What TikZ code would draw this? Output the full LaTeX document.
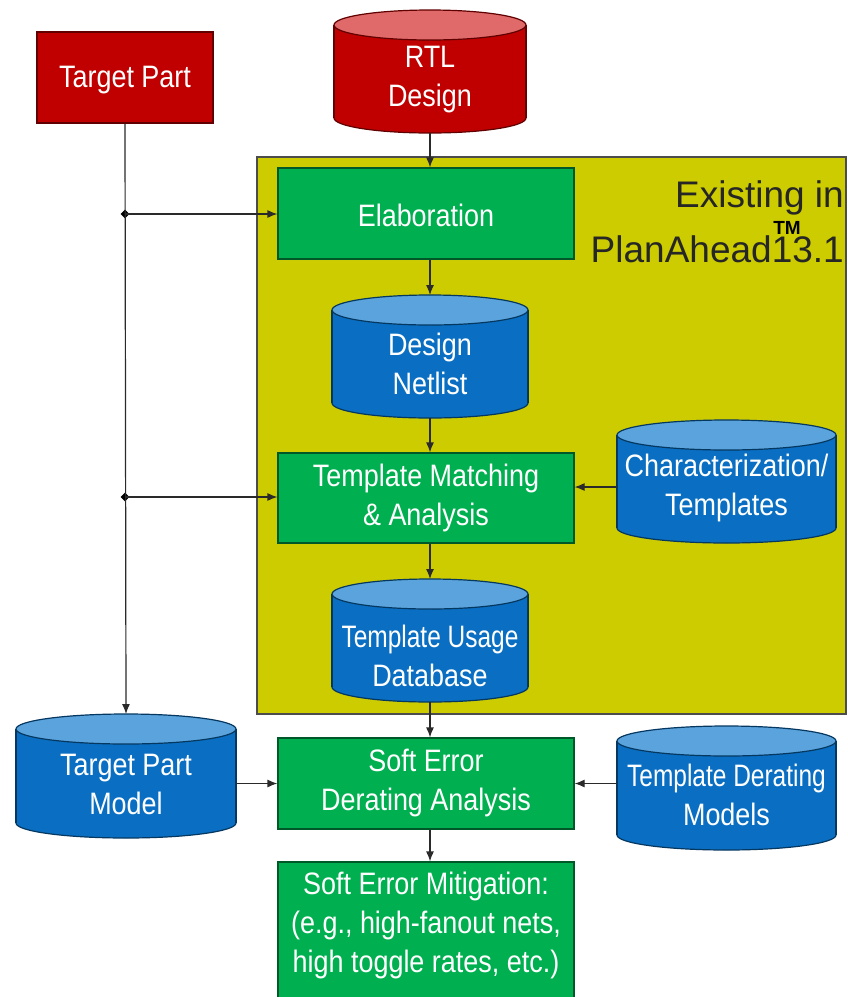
\documentclass[tikz,border=0pt]{standalone}
\usepackage{fontspec}
\setmainfont{Liberation Sans}
\newfontfamily\narrowfont{Liberation Sans}[FakeStretch=0.87]
\newfontfamily\narrowerfont{Liberation Sans}[FakeStretch=0.79]
\usetikzlibrary{arrows.meta,shapes.geometric,calc}
\definecolor{tred}{HTML}{C00000}
\definecolor{tredtop}{HTML}{E06A6A}
\definecolor{tblue}{HTML}{0A6FC2}
\definecolor{tbluetop}{HTML}{5AA3DC}
\definecolor{tgreen}{HTML}{00B050}
\definecolor{tyellow}{HTML}{CCCC00}
\definecolor{tline}{HTML}{2A2A2A}
\tikzset{
  boxnode/.style={draw=#1!50!black, line width=1.2pt, fill=#1, inner sep=0pt},
  txt/.style={text=white, font=\narrowfont\fontsize{31}{39}\selectfont, align=center, inner sep=0pt},
  cylbox/.style={inner sep=0pt, outer sep=0pt},
  conn/.style={draw=tline, line width=1.2pt, -{Latex[length=10pt,width=8pt]}},
  junction/.style={diamond, fill=black, inner sep=0pt, minimum size=9pt},
}
% \mycyl{name}{x1}{y1}{x2}{y2}{body}{top}{text offset}{text}
\newcommand\mycyl[9]{%
  \fill[#6] (#2,{#3+15}) rectangle (#4,{#5-15});
  \fill[#6] ({(#2+#4)/2},{#5-15}) ellipse [x radius={(#4-#2)/2}, y radius=15];
  \begin{scope}
    \clip (#2-3,{#5-15}) rectangle (#4+3,#5+3);
    \draw[#6!50!black, line width=1.2pt] ({(#2+#4)/2},{#5-15}) ellipse [x radius={(#4-#2)/2}, y radius=15];
  \end{scope}
  \draw[#6!50!black, line width=1.2pt] (#2,{#3+15}) -- (#2,{#5-15}) (#4,{#3+15}) -- (#4,{#5-15});
  \draw[#6!50!black, line width=1.2pt, fill=#7] ({(#2+#4)/2},{#3+15}) ellipse [x radius={(#4-#2)/2}, y radius=15];
  \node[cylbox, minimum width={(#4-#2)*1pt}, minimum height={(#5-#3)*1pt}] (#1) at ({(#2+#4)/2},{(#3+#5)/2}) {};
  \node[txt] at ($(#1.center)+(0,#8)$) {#9};
}
\begin{document}
\begin{tikzpicture}[x=1pt,y=-1pt]
\useasboundingbox (0,0) rectangle (847,997);
\fill[white] (0,0) rectangle (847,997);

% yellow region
\draw[fill=tyellow, draw=black!70, line width=1.2pt] (257,157) rectangle (846,714);
\node[anchor=base east, text=black!85, font=\fontsize{37}{37}\selectfont, inner sep=0pt] (ex1) at (844,207) {Existing in};
\node[anchor=base east, text=black!85, font=\fontsize{37}{37}\selectfont, inner sep=0pt] (ex2) at (844,262) {PlanAhead13.1};
\node[anchor=base, text=black, font=\bfseries\fontsize{19}{19}\selectfont, inner sep=0pt] (tm) at (787,234) {TM};

% rectangles
\node[boxnode=tred, minimum width=176pt, minimum height=91pt] (tp) at (125,77.5) {};
\node[txt] at (125,80) {Target Part};

\node[boxnode=tgreen, minimum width=296pt, minimum height=91pt] (elab) at (426,213.5) {};
\node[txt] at (426,215) {Elaboration};

\node[boxnode=tgreen, minimum width=296pt, minimum height=90pt] (tma) at (426,498) {};
\node[txt] at (426,498) {Template Matching\\ \& Analysis};

\node[boxnode=tgreen, minimum width=296pt, minimum height=91pt] (seda) at (426,783.5) {};
\node[txt] at (426,783) {Soft Error\\ Derating Analysis};

\node[boxnode=tgreen, minimum width=296pt, minimum height=145pt] (sem) at (426,934.5) {};
\node[txt] at (426,925) {Soft Error Mitigation:\\ (e.g., high-fanout nets,\\ high toggle rates, etc.)};

% cylinders
\mycyl{rtl}{334}{10}{526}{133}{tred}{tredtop}{8}{RTL\\ Design}
\mycyl{dn}{332}{295}{528}{418}{tblue}{tbluetop}{7}{Design\\ Netlist}
\mycyl{ct}{617}{420}{836}{543}{tblue}{tbluetop}{6}{Characterization/\\ Templates}
\mycyl{tud}{332}{579}{528}{702}{tblue}{tbluetop}{15}{\narrowerfont Template Usage\\ Database}
\mycyl{tpm}{16}{714}{236}{838}{tblue}{tbluetop}{8}{Target Part\\ Model}
\mycyl{tdm}{617}{726}{836}{850}{tblue}{tbluetop}{7}{\narrowerfont Template Derating\\ Models}

% junctions
\node[junction] (j1) at (125,214) {};
\node[junction] (j2) at (125,497) {};

% connectors
\draw[conn] (tp.south) -- (tpm.north);
\draw[conn] (j1.center) -- (j1.center -| elab.west);
\draw[conn] (j2.center) -- (j2.center -| tma.west);
\draw[conn] (rtl.south) -- (elab.north -| rtl.south);
\draw[conn] (elab.south -| dn.north) -- (dn.north);
\draw[conn] (dn.south) -- (tma.north -| dn.south);
\draw[conn] (ct.west |- 0,487) -- (tma.east |- 0,487);
\draw[conn] (tma.south -| tud.north) -- (tud.north);
\draw[conn] (tud.south) -- (seda.north -| tud.south);
\draw[conn] (tpm.east |- seda.west) -- (seda.west);
\draw[conn] (tdm.west |- seda.east) -- (seda.east);
\draw[conn] (seda.south -| tud.south) -- (sem.north -| tud.south);
\end{tikzpicture}
\end{document}
